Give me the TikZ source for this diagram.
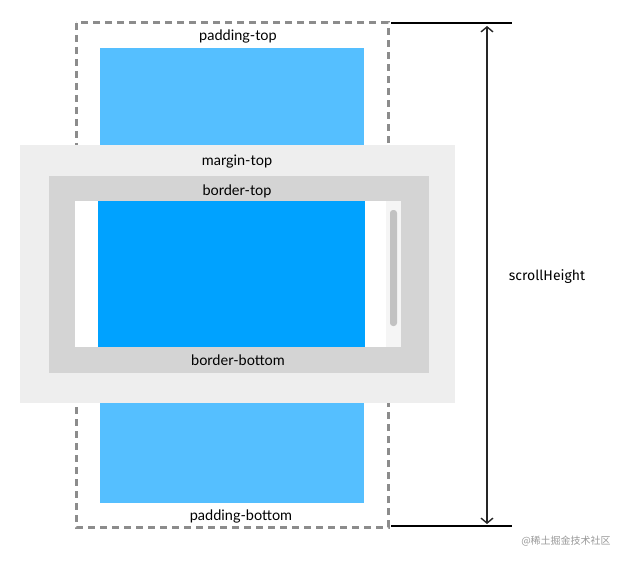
\documentclass[tikz,border=0pt]{standalone}
\usepackage{fontspec}
\setmainfont{Lato}
\newfontfamily\cjk{Noto Sans CJK SC}
\newfontfamily\hand{Fira Sans}
\usetikzlibrary{arrows.meta}
\definecolor{padblue}{HTML}{55BFFF}
\definecolor{contblue}{HTML}{00A2FF}
\definecolor{margingray}{HTML}{EEEEEE}
\definecolor{bordergray}{HTML}{D4D4D4}
\definecolor{dashgray}{HTML}{8C8C8C}
\definecolor{thumbgray}{HTML}{C2C2C2}
\definecolor{trackgray}{HTML}{F5F5F5}
\tikzset{
  lbl/.style={font=\fontsize{14.5}{16}\selectfont, text=black, inner sep=0pt},
}
\begin{document}
\begin{tikzpicture}[x=1pt,y=-1pt]
\useasboundingbox (0,0) rectangle (629,567);
\fill[white] (0,0) rectangle (629,567);
% padding blocks
\fill[padblue] (100,48) rectangle (364,145);
\fill[padblue] (100,403) rectangle (364,503);
% dashed scroll box
\draw[dashgray, line width=3pt, dash pattern=on 7pt off 5pt] (76,23) rectangle (388,527);
% margin
\fill[margingray] (20,145) rectangle (455,403);
% border
\fill[bordergray] (49,176) rectangle (429,373);
% inner viewport
\fill[white] (75,201) rectangle (401,347);
\fill[contblue] (98,201) rectangle (365,347);
\fill[trackgray] (386,201) rectangle (401,347);
\fill[thumbgray, rounded corners=3pt] (390,210) rectangle (397,326);
% labels
\node[lbl] (pt) at (238,36) {padding-top};
\node[lbl] (mt) at (237,162) {margin-top};
\node[lbl] (bt) at (237,191) {border-top};
\node[lbl] (bb) at (238,360) {border-bottom};
\node[lbl] (pb) at (241,516) {padding-bottom};
% measure lines
\coordinate (tl) at (391,23);
\coordinate (tr) at (512,23);
\coordinate (bl) at (391,526);
\coordinate (br) at (512,526);
\draw[black, line width=1.8pt] (tl) -- (tr);
\draw[black, line width=1.8pt] (bl) -- (br);
\coordinate (at) at (487,26);
\coordinate (ab) at (487,524);
\draw[black!85, line width=1.2pt, {Straight Barb[length=5pt,width=12pt,line width=1.4pt]}-{Straight Barb[length=5pt,width=12pt,line width=1.4pt]}] (at) -- (ab);
\node[font=\hand\fontsize{14}{16}\selectfont, inner sep=0pt] (sh) at (547,277) {scrollHeight};
\node[font=\cjk\fontsize{10}{12}\selectfont, text=black!40, inner sep=0pt] (wm) at (566,541) {@稀土掘金技术社区};
\end{tikzpicture}
\end{document}
